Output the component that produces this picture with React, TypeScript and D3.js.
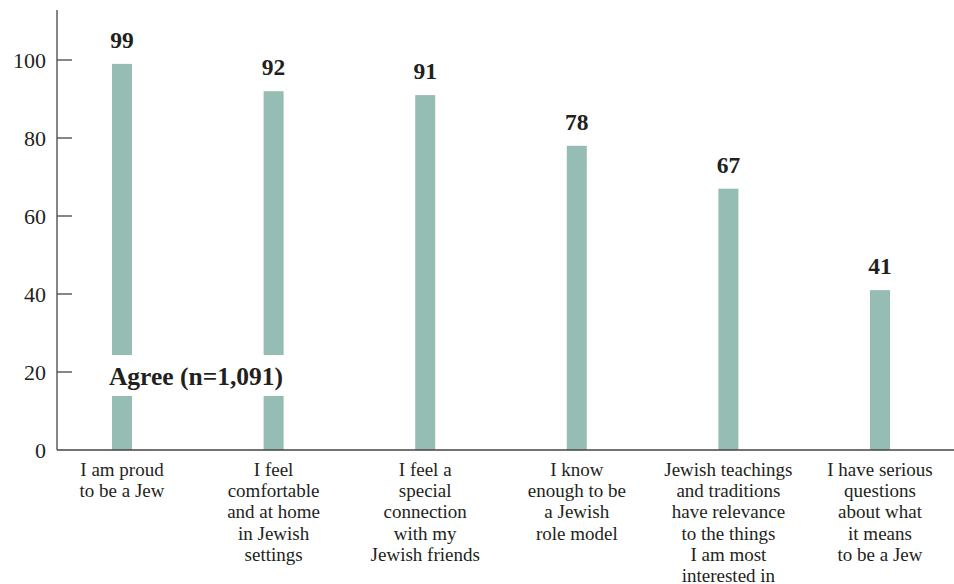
import React from "react";
import * as d3 from "d3";

const categories: string[][] = [
  ["I am proud", "to be a Jew"],
  ["I feel", "comfortable", "and at home", "in Jewish", "settings"],
  ["I feel a", "special", "connection", "with my", "Jewish friends"],
  ["I know", "enough to be", "a Jewish", "role model"],
  ["Jewish teachings", "and traditions", "have relevance", "to the things", "I am most", "interested in"],
  ["I have serious", "questions", "about what", "it means", "to be a Jew"],
];
const values: number[] = [99, 92, 91, 78, 67, 41];
const yTicks: number[] = [0, 20, 40, 60, 80, 100];
const legendLabel = "Agree (n=1,091)";

const W = 954;
const H = 584;
const FONT = '"Liberation Serif", "DejaVu Serif", serif';
const BAR = "#96bdb3";
const INK = "#231f20";

export default function App() {
  const ids = categories.map((_, i) => String(i));
  const x = d3.scalePoint<string>().domain(ids).range([122, 880]);
  const y = d3.scaleLinear().domain([0, 100]).range([450, 60]);
  const barW = 20;
  const axisX = 57;
  const ts = { fontFamily: FONT };

  return (
    <svg
      width={W}
      height={H}
      style={{ position: "absolute", left: 0, top: 0, background: "#fff", fontFamily: FONT }}
    >
      {values.map((v, i) => (
        <rect
          key={i}
          x={(x(String(i)) as number) - barW / 2}
          y={y(v)}
          width={barW}
          height={y(0) - y(v)}
          fill={BAR}
        />
      ))}
      {values.map((v, i) => (
        <text
          key={i}
          x={x(String(i)) as number}
          y={y(v) - 16}
          textAnchor="middle"
          fontSize={23.5}
          fontWeight="bold"
          fill={INK}
          style={ts}
        >
          {v}
        </text>
      ))}
      <rect x={104} y={355} width={188} height={41} fill="#fff" />
      <text x={196} y={385} textAnchor="middle" fontSize={25.5} fontWeight="bold" fill={INK} style={ts}>
        {legendLabel}
      </text>
      <line x1={axisX} x2={axisX} y1={10} y2={y(0)} stroke="#444" strokeWidth={1.3} />
      <line x1={axisX} x2={W} y1={y(0)} y2={y(0)} stroke="#444" strokeWidth={1.5} />
      {yTicks.map((t) => (
        <g key={t}>
          {t > 0 && (
            <line x1={axisX} x2={72} y1={y(t)} y2={y(t)} stroke="#444" strokeWidth={1.3} />
          )}
          <text x={46} y={y(t) + 8} textAnchor="end" fontSize={22} fill={INK} style={ts}>
            {t}
          </text>
        </g>
      ))}
      {categories.map((lines, i) => (
        <text key={i} x={x(String(i)) as number} y={476} textAnchor="middle" fontSize={19} fill={INK} style={ts}>
          {lines.map((l, j) => (
            <tspan key={j} x={x(String(i)) as number} dy={j === 0 ? 0 : 21.2}>
              {l}
            </tspan>
          ))}
        </text>
      ))}
    </svg>
  );
}
